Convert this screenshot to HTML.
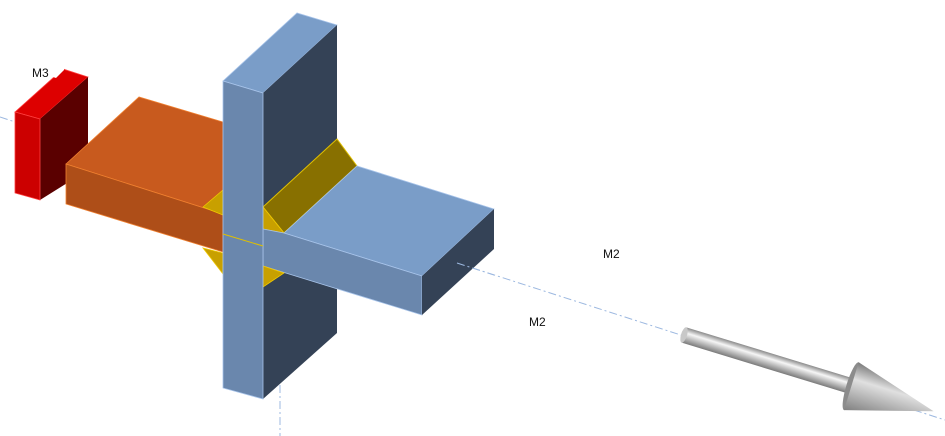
<!DOCTYPE html>
<html><head><meta charset="utf-8"><style>
html,body{margin:0;padding:0;background:#fff;}
svg{display:block;font-family:"Liberation Sans",sans-serif;}
</style></head><body>
<svg width="945" height="436" viewBox="0 0 945 436" xmlns="http://www.w3.org/2000/svg">
<defs>
<linearGradient id="sh" x1="0" y1="0" x2="0" y2="1">
<stop offset="0" stop-color="#8a8a8a"/><stop offset="0.35" stop-color="#f6f6f6"/><stop offset="1" stop-color="#7a7a7a"/>
</linearGradient>
<linearGradient id="cn" x1="0" y1="0" x2="0" y2="1">
<stop offset="0" stop-color="#7a7a7a"/><stop offset="0.35" stop-color="#e0e0e0"/><stop offset="1" stop-color="#808080"/>
</linearGradient>
</defs>
<g stroke="#9cb8e0" stroke-width="1" stroke-dasharray="8,3,2,3" fill="none">
<line x1="0" y1="117" x2="88" y2="146"/>
<line x1="457" y1="263" x2="945" y2="420"/>
<line x1="280" y1="385" x2="280" y2="436"/>
</g>
<polygon points="15,112 63,69 88,77 40,119" fill="#dd0000" stroke="#ff4040" stroke-width="0.8"/>
<polygon points="40,119 88,77 88,170 40,200" fill="#5a0000"/>
<polygon points="15,112 40,119 40,200 15,193" fill="#cc0000" stroke="#ff4040" stroke-width="0.8"/>
<polygon points="53,66 64,66 64,70 56,78 53,77" fill="#fff"/>
<polygon points="66,164 139,97 223,122 223,214" fill="#c85a1e" stroke="#f08030" stroke-width="0.8"/>
<polygon points="66,164 223,214 223,252 66,204" fill="#ae4e18" stroke="#f08030" stroke-width="0.8"/>
<polygon points="203,207 223,190 223,215" fill="#c8a000" stroke="#f0c800" stroke-width="0.8"/>
<polygon points="203,248 223,253 223,274" fill="#c8a000" stroke="#f0c800" stroke-width="0.8"/>
<polygon points="223,81 297,13 337,25 263,93" fill="#7a9dc8" stroke="#a8c4ea" stroke-width="0.8"/>
<polygon points="263,93 337,25 337,333 263,399" fill="#344256"/>
<polygon points="263,207 337,139 357,166 284,233" fill="#887000" stroke="#e0c000" stroke-width="1"/>
<polygon points="284,233 357,166 494,209 422,276" fill="#7a9dc8" stroke="#a8c4ea" stroke-width="0.8"/>
<polygon points="263,207 284,233 263,229" fill="#c8a000" stroke="#f0c800" stroke-width="0.8"/>
<polygon points="263,229 284,233 422,276 422,315 263,266" fill="#6a87ad" stroke="#a8c4ea" stroke-width="0.8"/>
<polygon points="422,276 494,209 494,249 422,315" fill="#344256"/>
<polygon points="263,266 284,273 263,287" fill="#c8a000" stroke="#f0c800" stroke-width="0.8"/>
<polygon points="223,81 263,93 263,399 223,388" fill="#6a87ad" stroke="#a8c4ea" stroke-width="0.8"/>
<line x1="223" y1="234" x2="263" y2="246" stroke="#e0c000" stroke-width="1"/>
<line x1="457" y1="263" x2="494" y2="275" stroke="#9cb8e0" stroke-dasharray="8,3,2,3"/>
<g transform="translate(684,335) rotate(17)">
<rect x="0" y="-8" width="180" height="16" fill="url(#sh)"/>
<ellipse cx="0" cy="0" rx="3" ry="8" fill="#c8c8c8"/>
<ellipse cx="175" cy="0" rx="5" ry="25" fill="#8c8c8c"/>
<polygon points="175,-25 261,0 175,25" fill="url(#cn)"/>
</g>
<g font-size="12" fill="#111">
<text x="32" y="77">M3</text>
<text x="603" y="258">M2</text>
<text x="529" y="326">M2</text>
</g>
</svg>
</body></html>
